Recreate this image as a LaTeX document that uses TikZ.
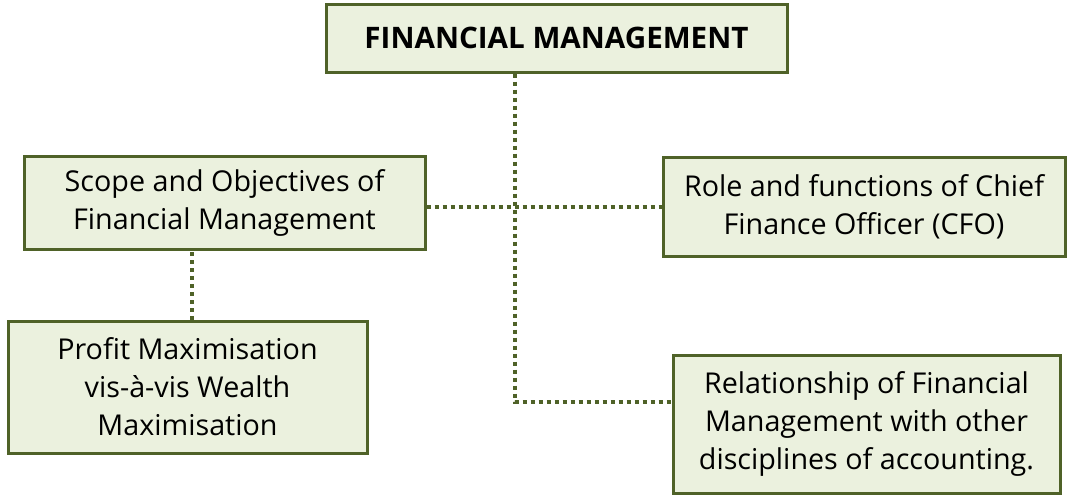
\documentclass[tikz,border=0pt]{standalone}
\usepackage{fontspec}
\setmainfont{Open Sans}
\definecolor{boxborder}{HTML}{4F6228}
\definecolor{boxfill}{HTML}{EBF1DE}
\begin{document}
\begin{tikzpicture}[x=1pt,y=-1pt,
  box/.style={draw=boxborder, fill=boxfill, line width=3pt, inner sep=0pt,
    align=center, font=\fontsize{28.7}{38}\selectfont, anchor=center},
  link/.style={draw=boxborder, line width=4pt, dash pattern=on 4pt off 4pt}]
\useasboundingbox (0,0) rectangle (1069,496);
\node[box, minimum width=461pt, minimum height=68pt, font=\fontsize{29.6}{37}\selectfont\bfseries]
  (fm) at (556.5,38) {FINANCIAL MANAGEMENT};
\node[box, minimum width=401pt, minimum height=93pt] (scope) at (224.5,202.5)
  {Scope and Objectives of\\Financial Management};
\node[box, minimum width=402pt, minimum height=99pt] (role) at (864,206.5)
  {Role and functions of Chief\\Finance Officer (CFO)};
\node[box, minimum width=359pt, minimum height=132pt] (profit) at (187.5,387)
  {Profit Maximisation\\vis-à-vis Wealth\\Maximisation};
\node[box, minimum width=387pt, minimum height=138pt] (rel) at (866.5,424)
  {Relationship of Financial\\Management with other\\disciplines of accounting.};
\coordinate (turn) at (515,402);
\draw[link] (fm.south -| turn) -- (turn) -- (turn -| rel.west);
\draw[link] (scope.east |- 0,207) -- (role.west |- 0,207);
\draw[link] (profit.north -| 192,0) -- (scope.south -| 192,0);
\end{tikzpicture}
\end{document}
